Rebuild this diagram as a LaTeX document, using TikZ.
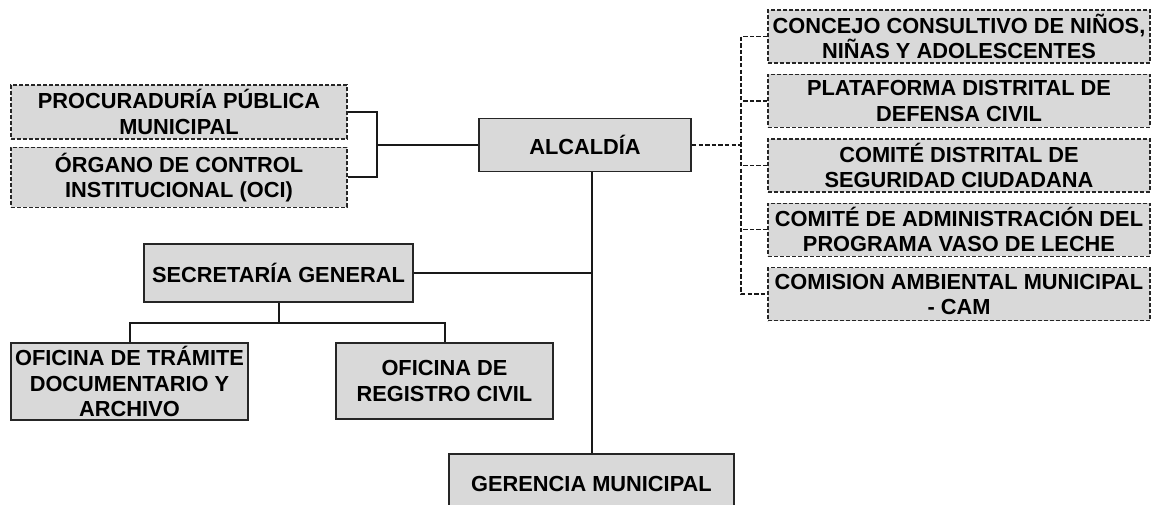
\documentclass[tikz,border=0pt]{standalone}
\usepackage{fontspec}
\setmainfont{Liberation Sans}
\usepackage{xcolor}
\usetikzlibrary{positioning}

\definecolor{boxgray}{HTML}{D9D9D9}

\begin{document}
\begin{tikzpicture}[
        x=0.5pt, y=-0.5pt,
        node distance=5pt and 5pt,
        unit/.style={
            rectangle,
            draw=black!85,
            fill=boxgray,
            line width=0.9pt,
            align=center,
            inner sep=1pt,
            font=\fontsize{10.9}{12.6}\selectfont\bfseries
        },
        advisory/.style={
            unit,
            dash pattern=on 2pt off 1pt,
            line width=0.7pt
        },
        link/.style={line width=1pt, draw=black!90},
        dlink/.style={line width=0.75pt, draw=black!90, dash pattern=on 2.2pt off 1.1pt}
    ]

    \clip (0,0) rectangle (1158,504);

    % left column (dashed)
    \node (proc) [advisory, minimum width=168pt, minimum height=27pt] at (179,112) {PROCURADURÍA PÚBLICA\\MUNICIPAL};
    \node (oci)  [advisory, minimum width=168pt, minimum height=30pt, below=3.5pt of proc] {ÓRGANO DE CONTROL\\INSTITUCIONAL (OCI)};

    % main line
    \node (alc) [unit, minimum width=106pt, minimum height=26.5pt] at (585,145) {ALCALDÍA};
    \node (ger) [unit, minimum width=142.5pt, minimum height=30pt] at (591.5,484) {GERENCIA MUNICIPAL};

    % right column (dashed)
    \node (con1) [advisory, minimum width=191pt, minimum height=26.5pt] at (959,36.5) {CONCEJO CONSULTIVO DE NIÑOS,\\NIÑAS Y ADOLESCENTES};
    \node (con2) [advisory, minimum width=191pt, minimum height=26.5pt, below=of con1] {PLATAFORMA DISTRITAL DE\\DEFENSA CIVIL};
    \node (con3) [advisory, minimum width=191pt, minimum height=26.5pt, below=of con2] {COMITÉ DISTRITAL DE\\SEGURIDAD CIUDADANA};
    \node (con4) [advisory, minimum width=191pt, minimum height=26.5pt, below=of con3] {COMITÉ DE ADMINISTRACIÓN DEL\\PROGRAMA VASO DE LECHE};
    \node (con5) [advisory, minimum width=191pt, minimum height=26.5pt, below=of con4] {COMISION AMBIENTAL MUNICIPAL\\- CAM};

    % secretaria
    \node (sec)  [unit, minimum width=134.5pt, minimum height=29pt] at (278.5,273) {SECRETARÍA GENERAL};
    \node (tram) [unit, minimum width=118.5pt, minimum height=38.5pt] at (129.5,381.5) {OFICINA DE TRÁMITE\\DOCUMENTARIO Y\\ARCHIVO};
    \node (reg)  [unit, minimum width=108.5pt, minimum height=38pt] at (444.5,381) {OFICINA DE\\REGISTRO CIVIL};

    \coordinate (lbrk) at (377,145);
    \coordinate (rbrk) at (741,145);
    \coordinate (secbar) at (274,323);

    \draw [link] (proc.east) -| (lbrk) |- (oci.east);
    \draw [link] (lbrk) -- (alc.west);
    \draw [link] (ger.north |- alc.south) -- (ger.north);
    \draw [link] (sec.east) -- (sec.east -| ger.north);
    \draw [link] (sec.south) -- (sec.south |- secbar);
    \draw [link] (tram.north) |- (secbar) -| (reg.north);

    \draw [dlink] (alc.east) -- (rbrk);
    \draw [dlink] (con1.west) -| (rbrk) |- (con5.west);
    \foreach \n in {con2, con3, con4}
        \draw [dlink] (\n.west) -- (\n.west -| rbrk);

\end{tikzpicture}
\end{document}
